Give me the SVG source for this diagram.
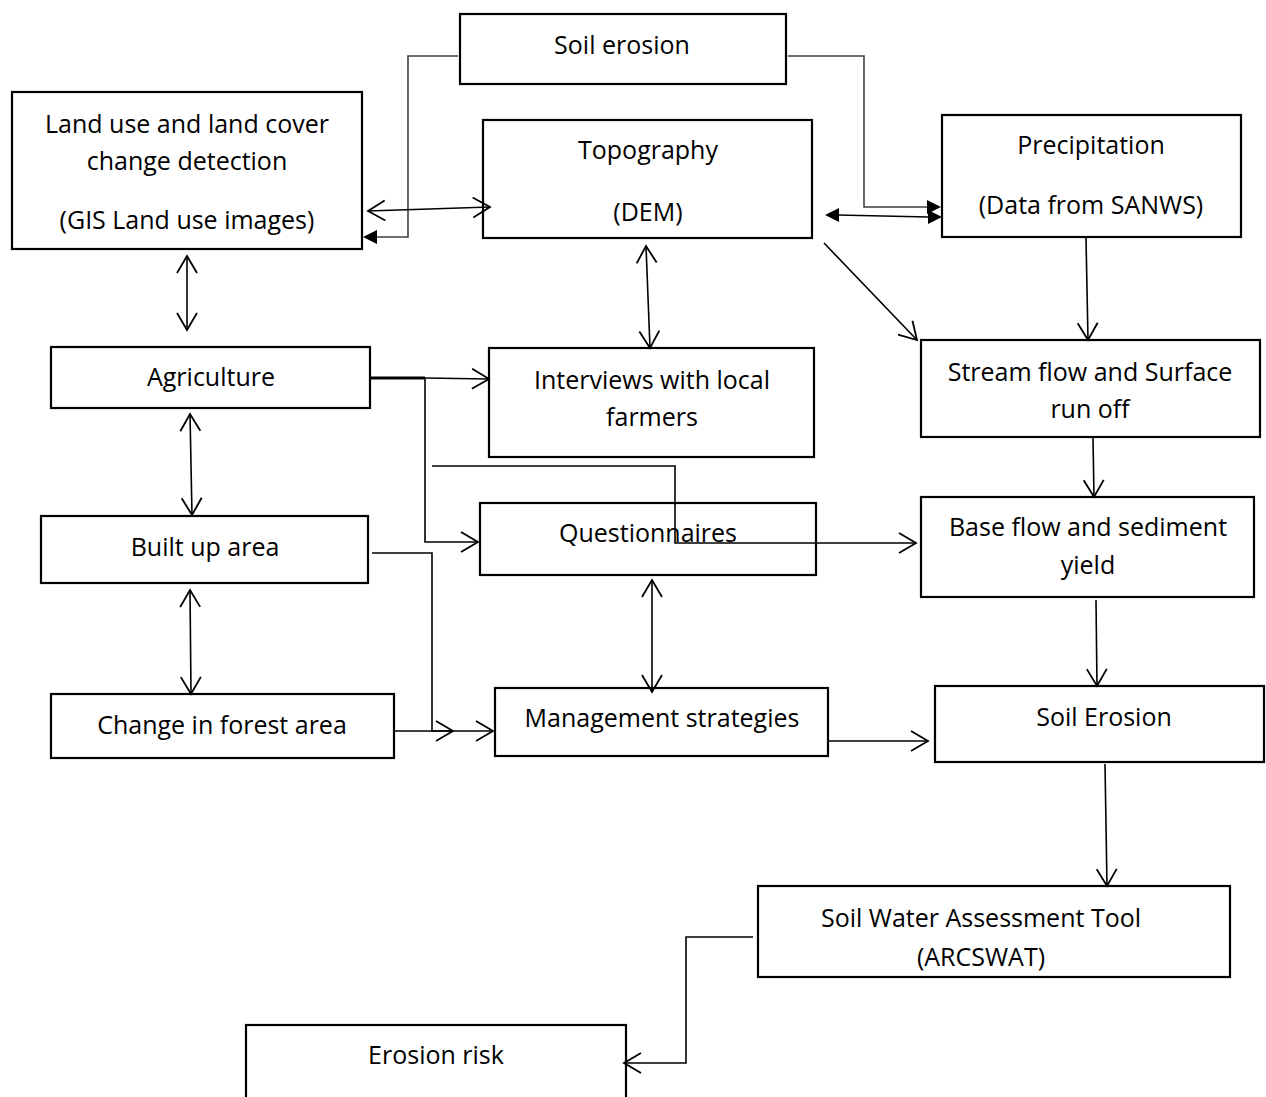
<svg xmlns="http://www.w3.org/2000/svg" width="1266" height="1097" viewBox="0 0 1266 1097">
<style>
.box{fill:#fff;stroke:#000;stroke-width:2.2}
.t{font-family:"Open Sans","Noto Sans",sans-serif;font-size:25px;fill:#000;text-anchor:middle}
.c{fill:none;stroke:#000;stroke-width:1.6}
.g{fill:none;stroke:#404040;stroke-width:1.6}
.o{marker-end:url(#open)}
.oo{marker-start:url(#open);marker-end:url(#open)}
</style>
<defs>
<marker id="open" markerUnits="userSpaceOnUse" markerWidth="22" markerHeight="24" refX="18" refY="11" orient="auto-start-reverse" viewBox="0 0 22 24">
<path d="M1,1 L18,11 L1,21" fill="none" stroke="#000" stroke-width="1.8"/>
</marker>
</defs>
<rect width="1266" height="1097" fill="#fff"/>
<g id="soil-erosion-top"><rect class="box" x="460" y="14" width="326" height="70"/><text class="t" x="622" y="54">Soil erosion</text></g>
<g id="land-use"><rect class="box" x="12" y="92" width="350" height="157"/><text class="t" x="187" y="133">Land use and land cover</text><text class="t" x="187" y="170">change detection</text><text class="t" x="187" y="229">(GIS Land use images)</text></g>
<g id="topography"><rect class="box" x="483" y="120" width="329" height="118"/><text class="t" x="648" y="159">Topography</text><text class="t" x="648" y="221">(DEM)</text></g>
<g id="precipitation"><rect class="box" x="942" y="115" width="299" height="122"/><text class="t" x="1091" y="154">Precipitation</text><text class="t" x="1091" y="214">(Data from SANWS)</text></g>
<g id="agriculture"><rect class="box" x="51" y="347" width="319" height="61"/><text class="t" x="211" y="386">Agriculture</text></g>
<g id="interviews"><rect class="box" x="489" y="348" width="325" height="109"/><text class="t" x="652" y="389">Interviews with local</text><text class="t" x="652" y="426">farmers</text></g>
<g id="stream-flow"><rect class="box" x="921" y="340" width="339" height="97"/><text class="t" x="1090" y="381">Stream flow and Surface</text><text class="t" x="1090" y="418">run off</text></g>
<g id="built-up"><rect class="box" x="41" y="516" width="327" height="67"/><text class="t" x="205" y="556">Built up area</text></g>
<g id="questionnaires"><rect class="box" x="480" y="503" width="336" height="72"/><text class="t" x="648" y="542">Questionnaires</text></g>
<g id="base-flow"><rect class="box" x="921" y="497" width="333" height="100"/><text class="t" x="1088" y="536">Base flow and sediment</text><text class="t" x="1088" y="574">yield</text></g>
<g id="forest"><rect class="box" x="51" y="694" width="343" height="64"/><text class="t" x="222" y="734">Change in forest area</text></g>
<g id="management"><rect class="box" x="495" y="688" width="333" height="68"/><text class="t" x="662" y="727">Management strategies</text></g>
<g id="soil-erosion"><rect class="box" x="935" y="686" width="329" height="76"/><text class="t" x="1104" y="726">Soil Erosion</text></g>
<g id="swat"><rect class="box" x="758" y="886" width="472" height="91"/><text class="t" x="981" y="927">Soil Water Assessment Tool</text><text class="t" x="981" y="966">(ARCSWAT)</text></g>
<g id="erosion-risk"><rect class="box" x="246" y="1025" width="380" height="80"/><text class="t" x="436" y="1064">Erosion risk</text></g>
<g id="connectors">
<polyline class="g" points="458,56 408,56 408,237 376,237" />
<path d="M363,237 L377,230 L377,244 Z" fill="#000"/>
<polyline class="g" points="788,56 864,56 864,207 928,207"/>
<path d="M941,207 L927,200 L927,214 Z" fill="#000"/>
<line class="c oo" x1="368" y1="211" x2="490" y2="207"/>
<line class="c" x1="838" y1="215" x2="928" y2="217"/>
<path d="M825,215 L839,208 L839,222 Z" fill="#000"/>
<path d="M942,217 L928,210 L928,224 Z" fill="#000"/>
<line class="c o" x1="824" y1="243" x2="917" y2="340"/>
<line class="c o" x1="1086" y1="238" x2="1088" y2="340"/>
<line class="c o" x1="1093" y1="438" x2="1094" y2="497"/>
<line class="c o" x1="1096" y1="600" x2="1097" y2="686"/>
<line class="c o" x1="1105" y1="764" x2="1107" y2="886"/>
<polyline class="c o" points="753,937 686,937 686,1063 624,1063"/>
<line class="c oo" x1="187" y1="256" x2="187" y2="330"/>
<line class="c oo" x1="646" y1="246" x2="650" y2="348"/>
<line class="c oo" x1="190" y1="414" x2="192" y2="515"/>
<line class="c oo" x1="190" y1="590" x2="191" y2="694"/>
<line class="c oo" x1="652" y1="580" x2="652" y2="692"/>
<line x1="370" y1="378" x2="425" y2="378" stroke="#000" stroke-width="3"/>
<line class="c o" x1="425" y1="378" x2="489" y2="379"/>
<polyline class="c o" points="425,378 425,542 478,542"/>
<polyline class="c o" points="432,466 675,466 675,543 916,543"/>
<polyline class="c o" points="372,553 432,553 432,731 453,731"/>
<line class="c o" x1="394" y1="731" x2="493" y2="731"/>
<line class="c o" x1="828" y1="741" x2="928" y2="741"/>
</g>
</svg>
